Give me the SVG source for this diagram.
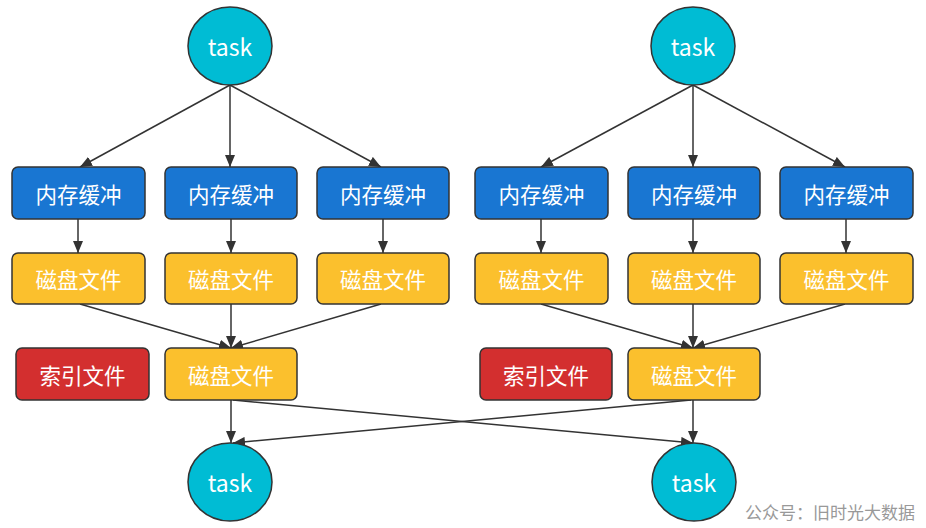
<svg xmlns="http://www.w3.org/2000/svg" width="926" height="528" viewBox="0 0 926 528">
<defs>
<marker id="arr" viewBox="0 0 12 10" refX="12" refY="5" markerWidth="12" markerHeight="10" markerUnits="userSpaceOnUse" orient="auto">
<path d="M0,0 L12,5 L0,10 z" fill="#333"/>
</marker>
<style>
.task{fill:#00BCD4;stroke:#333;stroke-width:1.5}
.blue{fill:#1976D2;stroke:#333;stroke-width:1.5}
.yel{fill:#FBC02D;stroke:#333;stroke-width:1.5}
.red{fill:#D32F2F;stroke:#333;stroke-width:1.5}
text{font-family:"Microsoft YaHei","Noto Sans CJK SC","Noto Sans",sans-serif;fill:#fff;font-size:21.5px;text-anchor:middle;dominant-baseline:central}
text.t{font-size:23px}
.c line{stroke:#333;stroke-width:1.5;marker-end:url(#arr)}
.wm{fill:#999;font-size:17px;text-anchor:start;stroke:#fff;stroke-width:0.6;paint-order:stroke}
</style>
</defs>
<rect width="926" height="528" fill="#fff"/>
<g class="c" id="connectors">
<line x1="230" y1="85" x2="80" y2="167"/>
<line x1="230" y1="85" x2="230" y2="167"/>
<line x1="230" y1="85" x2="381" y2="167"/>
<line x1="693" y1="85" x2="541" y2="167"/>
<line x1="693" y1="85" x2="693" y2="167"/>
<line x1="693" y1="85" x2="845" y2="167"/>
<line x1="78" y1="219" x2="78" y2="253"/>
<line x1="231" y1="219" x2="231" y2="253"/>
<line x1="383" y1="219" x2="383" y2="253"/>
<line x1="541" y1="219" x2="541" y2="253"/>
<line x1="693" y1="219" x2="693" y2="253"/>
<line x1="846" y1="219" x2="846" y2="253"/>
<line x1="80" y1="304" x2="231" y2="348"/>
<line x1="231" y1="304" x2="231" y2="348"/>
<line x1="381" y1="304" x2="231" y2="348"/>
<line x1="541" y1="304" x2="693" y2="348"/>
<line x1="693" y1="304" x2="693" y2="348"/>
<line x1="845" y1="304" x2="693" y2="348"/>
<line x1="231" y1="400" x2="231" y2="443"/>
<line x1="233" y1="400" x2="693" y2="443"/>
<line x1="693" y1="400" x2="693" y2="443"/>
<line x1="691" y1="400" x2="233" y2="443"/>
</g>
<g id="task1"><ellipse class="task" cx="230" cy="46" rx="42" ry="39"/><text class="t" x="230" y="46">task</text></g>
<g id="task2"><ellipse class="task" cx="693" cy="46" rx="42" ry="39"/><text class="t" x="693" y="46">task</text></g>
<g id="mem1"><rect class="blue" x="12" y="167" width="133" height="52" rx="6"/><text x="78.5" y="193">内存缓冲</text></g>
<g id="mem2"><rect class="blue" x="165" y="167" width="132" height="52" rx="6"/><text x="231" y="193">内存缓冲</text></g>
<g id="mem3"><rect class="blue" x="317" y="167" width="132" height="52" rx="6"/><text x="383" y="193">内存缓冲</text></g>
<g id="mem4"><rect class="blue" x="475" y="167" width="133" height="52" rx="6"/><text x="541.5" y="193">内存缓冲</text></g>
<g id="mem5"><rect class="blue" x="628" y="167" width="132" height="52" rx="6"/><text x="694" y="193">内存缓冲</text></g>
<g id="mem6"><rect class="blue" x="780" y="167" width="133" height="52" rx="6"/><text x="846.5" y="193">内存缓冲</text></g>
<g id="disk1"><rect class="yel" x="12" y="253" width="133" height="51" rx="6"/><text x="78.5" y="278.5">磁盘文件</text></g>
<g id="disk2"><rect class="yel" x="165" y="253" width="132" height="51" rx="6"/><text x="231" y="278.5">磁盘文件</text></g>
<g id="disk3"><rect class="yel" x="317" y="253" width="132" height="51" rx="6"/><text x="383" y="278.5">磁盘文件</text></g>
<g id="disk4"><rect class="yel" x="475" y="253" width="133" height="51" rx="6"/><text x="541.5" y="278.5">磁盘文件</text></g>
<g id="disk5"><rect class="yel" x="628" y="253" width="132" height="51" rx="6"/><text x="694" y="278.5">磁盘文件</text></g>
<g id="disk6"><rect class="yel" x="780" y="253" width="133" height="51" rx="6"/><text x="846.5" y="278.5">磁盘文件</text></g>
<g id="index1"><rect class="red" x="16" y="348" width="133" height="52" rx="6"/><text x="82.5" y="374">索引文件</text></g>
<g id="merged1"><rect class="yel" x="165" y="348" width="132" height="52" rx="6"/><text x="231" y="374">磁盘文件</text></g>
<g id="index2"><rect class="red" x="480" y="348" width="132" height="52" rx="6"/><text x="546" y="374">索引文件</text></g>
<g id="merged2"><rect class="yel" x="628" y="348" width="132" height="52" rx="6"/><text x="694" y="374">磁盘文件</text></g>
<g id="task3"><ellipse class="task" cx="230" cy="482" rx="42" ry="39"/><text class="t" x="230" y="482">task</text></g>
<g id="task4"><ellipse class="task" cx="694" cy="482" rx="42" ry="39"/><text class="t" x="694" y="482">task</text></g>
<text class="wm" x="745" y="511">公众号：旧时光大数据</text>
</svg>
